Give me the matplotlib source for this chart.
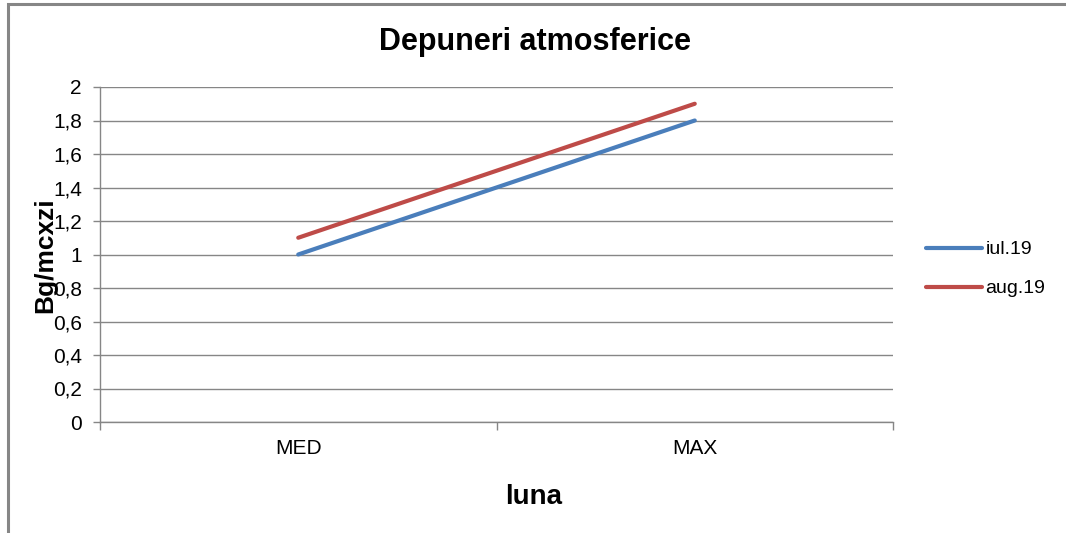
import matplotlib
matplotlib.use("Agg")
import matplotlib.pyplot as plt
from matplotlib.patches import Rectangle
from matplotlib.lines import Line2D

categories = ["MED", "MAX"]
series_names = ["iul.19", "aug.19"]
iul19 = [1.0, 1.8]
aug19 = [1.1, 1.9]
yticks = [0, 0.2, 0.4, 0.6, 0.8, 1, 1.2, 1.4, 1.6, 1.8, 2]
ytick_labels = ["0", "0,2", "0,4", "0,6", "0,8", "1", "1,2", "1,4", "1,6", "1,8", "2"]

plt.rcParams['font.family'] = ['Liberation Sans', 'DejaVu Sans']

fig = plt.figure(figsize=(10.66, 5.33), dpi=100)
# outer chart frame
fig.patches.append(Rectangle((8/1066, -0.05), 1.2, 1 - 3.5/533 + 0.05, transform=fig.transFigure,
                             fill=False, edgecolor="#868686", linewidth=2.2))

ax = fig.add_axes([100/1066, 1 - 422/533, 793/1066, 335/533])
x = list(range(len(categories)))
colors = ["#4A7EBB", "#BE4B48"]
for vals, name, c in zip([iul19, aug19], series_names, colors):
    ax.plot(x, vals, color=c, linewidth=3.0, label=name, solid_capstyle="round")

ax.set_xlim(-0.5, len(categories) - 0.5)
ax.set_ylim(0, 2)
ax.set_yticks(yticks)
ax.set_yticklabels(ytick_labels)
ax.set_xticks(x)
ax.set_xticklabels(categories)
ax.set_xticks([-0.5, 0.5, 1.5], minor=True)
ax.tick_params(axis="x", which="major", length=0, pad=12, labelsize=15)
ax.tick_params(axis="x", which="minor", length=6, color="#868686", width=1)
ax.tick_params(axis="y", length=5, color="#868686", width=1, labelsize=15, pad=8)
ax.grid(axis="y", color="#868686", linewidth=1)
ax.set_axisbelow(True)
for s in ["top", "right"]:
    ax.spines[s].set_visible(False)
for s in ["left", "bottom"]:
    ax.spines[s].set_color("#868686")
    ax.spines[s].set_linewidth(1)

fig.text(535/1066, 1 - 42/533, "Depuneri atmosferice", ha="center", va="center",
         fontsize=22, fontweight="bold")
fig.text(534/1066, 1 - 497/533, "luna", ha="center", va="center", fontsize=20, fontweight="bold")
fig.text(45/1066, 1 - 255/533, "Bg/mcxzi", ha="center", va="center", rotation=90,
         fontsize=19, fontweight="bold")

handles = [Line2D([0], [0], color=c, linewidth=3.0, solid_capstyle="round") for c in colors]
fig.legend(handles, series_names, loc="center left", bbox_to_anchor=(926/1066, 1 - 269/533),
           frameon=False, fontsize=14, handlelength=2.9, handletextpad=0.15, labelspacing=1.1,
           borderaxespad=0, borderpad=0)

fig.savefig("out.png", dpi=100)
